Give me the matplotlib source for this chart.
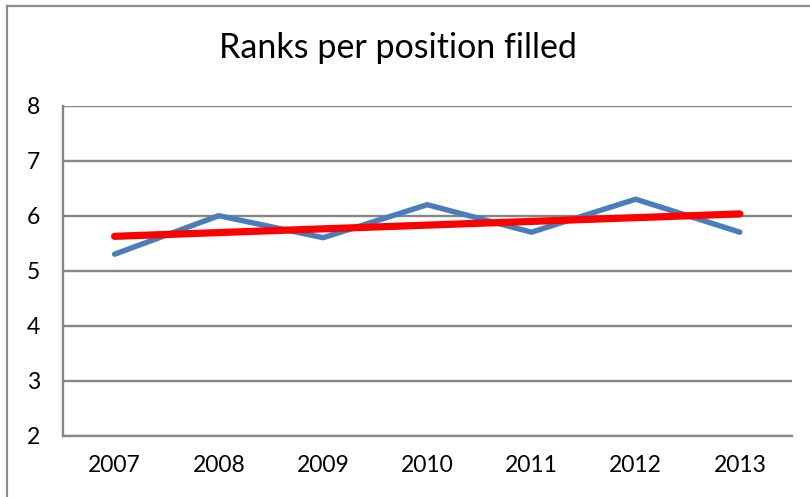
import numpy as np
import matplotlib
matplotlib.use("Agg")
import matplotlib.pyplot as plt
from matplotlib.lines import Line2D

years = ["2007", "2008", "2009", "2010", "2011", "2012", "2013"]
ranks = [5.3, 6.0, 5.6, 6.2, 5.7, 6.3, 5.7]
y_ticks = [2, 3, 4, 5, 6, 7, 8]
title = "Ranks per position filled"

plt.rcParams['font.family'] = ['Lato', 'DejaVu Sans']

fig = plt.figure(figsize=(8.10, 4.97), dpi=100)
ax = fig.add_axes([62.5/810, 1-435.7/497, (792-62.5)/810, (435.7-105.7)/497])

x = np.arange(len(years))
ax.plot(x, ranks, color="#4A7EBB", lw=3.9, solid_capstyle="round", solid_joinstyle="round", zorder=3)
coef = np.polyfit(x, ranks, 1)
trend = np.polyval(coef, x)
ax.plot(x[[0, -1]], trend[[0, -1]], color="#FF0000", lw=5.2, solid_capstyle="round", zorder=4)

ax.set_xlim(-0.5, len(years) - 0.5)
ax.set_ylim(min(y_ticks), max(y_ticks))
ax.set_yticks(y_ticks)
ax.set_xticks(x)
ax.set_xticklabels(years)
ax.tick_params(axis="both", length=0, labelsize=16.5, colors="black")
ax.tick_params(axis="y", pad=16)
ax.tick_params(axis="x", pad=14)
ax.grid(axis="y", color="#868686", lw=1.7)
ax.set_axisbelow(True)
for s in ["top", "right"]:
    ax.spines[s].set_visible(False)
for s in ["left", "bottom"]:
    ax.spines[s].set_color("#868686")
    ax.spines[s].set_linewidth(1.7)

fig.text(398/810, 1-48/497, title, ha="center", va="center", fontsize=24.5)

# chart frame (cropped at right and bottom)
fig.add_artist(Line2D([7/810, 7/810], [0, 1-6/497], transform=fig.transFigure, color="#8C8C8C", lw=1.6))
fig.add_artist(Line2D([7/810, 1], [1-6/497, 1-6/497], transform=fig.transFigure, color="#8C8C8C", lw=1.6))

fig.savefig("out.png", dpi=100)
